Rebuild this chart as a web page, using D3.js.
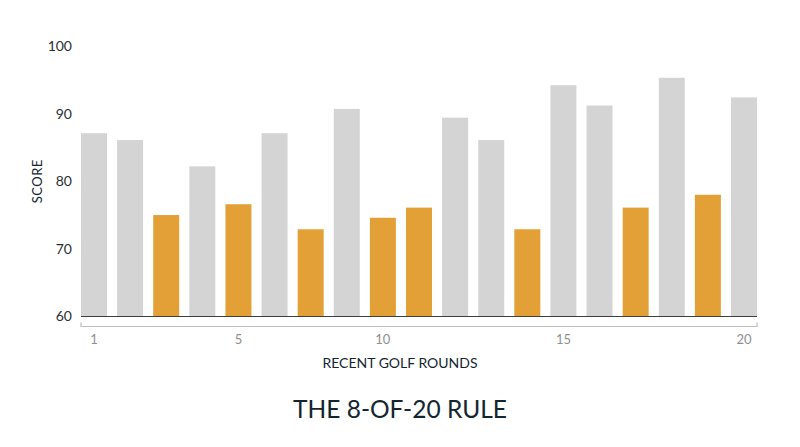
<!DOCTYPE html>
<html>
<head>
<meta charset="utf-8">
<script src="https://cdn.jsdelivr.net/npm/d3@7"></script>
<style>
  body { margin: 0; background: #fff; }
  svg { display: block; font-family: Lato, 'Open Sans', sans-serif; }
</style>
</head>
<body>
<script>
// recent rounds, score, and whether round counts toward the 8-of-20
const rounds = d3.range(1, 20);
const scores = [87.1, 86.1, 75.0, 82.2, 76.6, 87.1, 72.9, 90.7, 74.6, 76.1,
  89.4, 86.1, 72.9, 94.2, 91.2, 76.1, 95.3, 78.0, 92.4];
const counted = [false, false, true, false, true, false, true, false, true, true,
  false, false, true, false, false, true, false, true, false];

const yTicks = [60, 70, 80, 90, 100];
const xTickRounds = [1, 5, 9, 14, 19];
const xTickLabels = ['1', '5', '10', '15', '20'];

const width = 800;
const height = 447;
const margin = { top: 46, right: 43, bottom: 130.5, left: 81 };

const x = d3.scaleBand()
  .domain(rounds)
  .range([margin.left, width - margin.right])
  .paddingInner(0.28)
  .paddingOuter(0);

const y = d3.scaleLinear()
  .domain([60, 100])
  .range([height - margin.bottom, margin.top]);

const svg = d3.select('body').append('svg')
  .attr('width', width)
  .attr('height', height);

// y labels
svg.append('g')
  .selectAll('text')
  .data(yTicks)
  .enter().append('text')
  .attr('x', 72)
  .attr('y', d => y(d))
  .attr('dy', '0.35em')
  .attr('text-anchor', 'end')
  .style('font-size', '14px')
  .style('fill', '#2b2f33')
  .text(d => d);

svg.append('text')
  .attr('transform', `translate(42, ${y(80)}) rotate(-90)`)
  .attr('text-anchor', 'middle')
  .style('font-size', '13px')
  .style('fill', '#13262f')
  .style('letter-spacing', '0.5px')
  .text('SCORE');

// bars
svg.append('g')
  .selectAll('rect')
  .data(rounds)
  .enter().append('rect')
  .attr('x', d => x(d))
  .attr('width', x.bandwidth())
  .attr('y', (d, i) => y(scores[i]))
  .attr('height', (d, i) => y(60) - y(scores[i]))
  .attr('fill', (d, i) => (counted[i] ? '#e3a036' : '#d4d4d4'));

// baseline
svg.append('line')
  .attr('x1', margin.left)
  .attr('x2', width - margin.right)
  .attr('y1', y(60))
  .attr('y2', y(60))
  .attr('stroke', '#3a3f42')
  .attr('stroke-width', 1.2);

// bracket under the bars
const by = y(60) + 10;
svg.append('path')
  .attr('d', `M${margin.left},${by - 4}V${by}H${width - margin.right}V${by - 4}`)
  .attr('fill', 'none')
  .attr('stroke', '#bdbdbd')
  .attr('stroke-width', 1.2);

svg.append('g')
  .selectAll('text')
  .data(xTickRounds)
  .enter().append('text')
  .attr('x', d => x(d) + x.bandwidth() / 2)
  .attr('y', by + 13)
  .attr('dy', '0.35em')
  .attr('text-anchor', 'middle')
  .style('font-size', '13px')
  .style('fill', '#8f8f8f')
  .text((d, i) => xTickLabels[i]);

svg.append('text')
  .attr('x', 400)
  .attr('y', 363)
  .attr('dy', '0.35em')
  .attr('text-anchor', 'middle')
  .style('font-size', '14px')
  .style('fill', '#13262f')
  .text('RECENT GOLF ROUNDS');

svg.append('text')
  .attr('x', 400)
  .attr('y', 409)
  .attr('dy', '0.35em')
  .attr('text-anchor', 'middle')
  .style('font-size', '24.5px')
  .style('fill', '#13262f')
  .text('THE 8-OF-20 RULE');
</script>
</body>
</html>
